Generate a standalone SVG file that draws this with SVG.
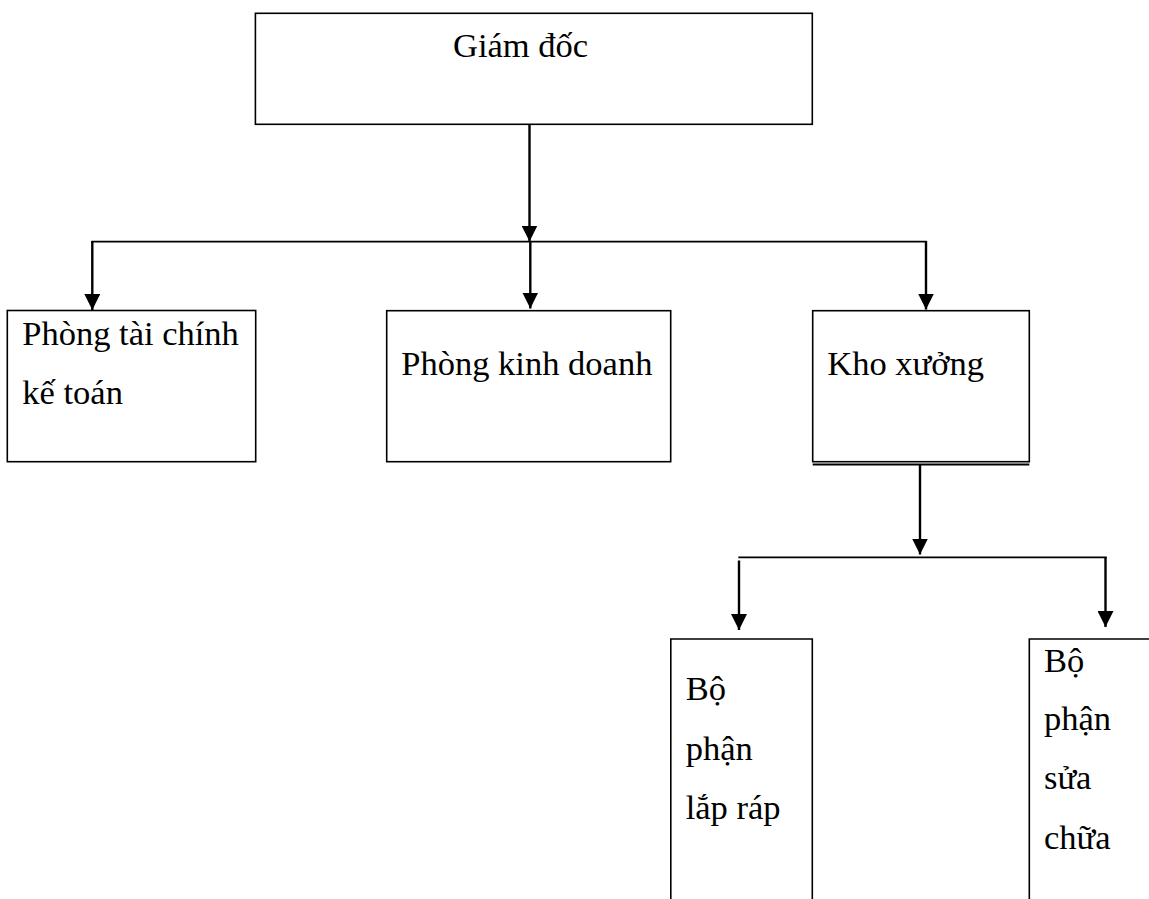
<svg xmlns="http://www.w3.org/2000/svg" width="1149" height="899" viewBox="0 0 1149 899">
  <style>
    .box { fill: #ffffff; stroke: #000000; stroke-width: 1.6; }
    .edge { fill: none; stroke: #000000; stroke-width: 1.8; }
    .arrow { fill: none; stroke: #000000; stroke-width: 2.4; marker-end: url(#head); }
    .label { font-family: "Liberation Serif", "Times New Roman", serif; font-size: 34.5px; fill: #000000; }
  </style>
  <defs>
    <marker id="head" markerUnits="userSpaceOnUse" markerWidth="16" markerHeight="16" viewBox="0 0 16 16" refX="16" refY="8" orient="auto">
      <path d="M0,0 L16,8 L0,16 z" fill="#000000"/>
    </marker>
  </defs>
  <rect width="1149" height="899" fill="#ffffff"/>

  <!-- connectors -->
  <g id="connectors">
    <line class="arrow" x1="529.5" y1="124.5" x2="529.5" y2="241.5"/>
    <line class="edge" x1="91.5" y1="241.7" x2="926.5" y2="241.7"/>
    <line class="arrow" x1="92.3" y1="241" x2="92.3" y2="310"/>
    <line class="arrow" x1="530.3" y1="241" x2="530.3" y2="308.5"/>
    <line class="arrow" x1="926" y1="241" x2="926" y2="309.5"/>
    <line class="arrow" x1="920" y1="465" x2="920" y2="554.5"/>
    <line class="edge" x1="738.3" y1="557.3" x2="1106.7" y2="557.3"/>
    <line class="arrow" x1="739" y1="560.5" x2="739" y2="630"/>
    <line class="arrow" x1="1105.5" y1="557" x2="1105.5" y2="627"/>
  </g>

  <!-- top level -->
  <g id="giam-doc">
    <rect class="box" x="255.4" y="13.3" width="556.9" height="111"/>
    <text class="label" x="453" y="56.7">Giám đốc</text>
  </g>

  <!-- departments -->
  <g id="phong-tai-chinh">
    <rect class="box" x="7.3" y="310.5" width="248.4" height="151.2"/>
    <text class="label" x="22.3" y="345">Phòng tài chính</text>
    <text class="label" x="22.3" y="404">kế toán</text>
  </g>
  <g id="phong-kinh-doanh">
    <rect class="box" x="386.7" y="310.7" width="284" height="151"/>
    <text class="label" x="401.3" y="375">Phòng kinh doanh</text>
  </g>
  <g id="kho-xuong">
    <rect class="box" x="812.7" y="310.7" width="216.6" height="151"/>
    <line class="edge" x1="812.7" y1="464.5" x2="1029.3" y2="464.5" stroke-width="1.4"/>
    <text class="label" x="827.3" y="375">Kho xưởng</text>
  </g>

  <!-- workshop sections -->
  <g id="bo-phan-lap-rap">
    <path class="box" d="M670.8,899 V639 H812.3 V899"/>
    <text class="label" x="685.7" y="700">Bộ</text>
    <text class="label" x="685.7" y="760">phận</text>
    <text class="label" x="685.7" y="819">lắp ráp</text>
  </g>
  <g id="bo-phan-sua-chua">
    <path class="box" d="M1029.3,899 V639 H1150"/>
    <text class="label" x="1044" y="671.7">Bộ</text>
    <text class="label" x="1044" y="730">phận</text>
    <text class="label" x="1044" y="789.3">sửa</text>
    <text class="label" x="1044" y="849.3">chữa</text>
  </g>
</svg>
